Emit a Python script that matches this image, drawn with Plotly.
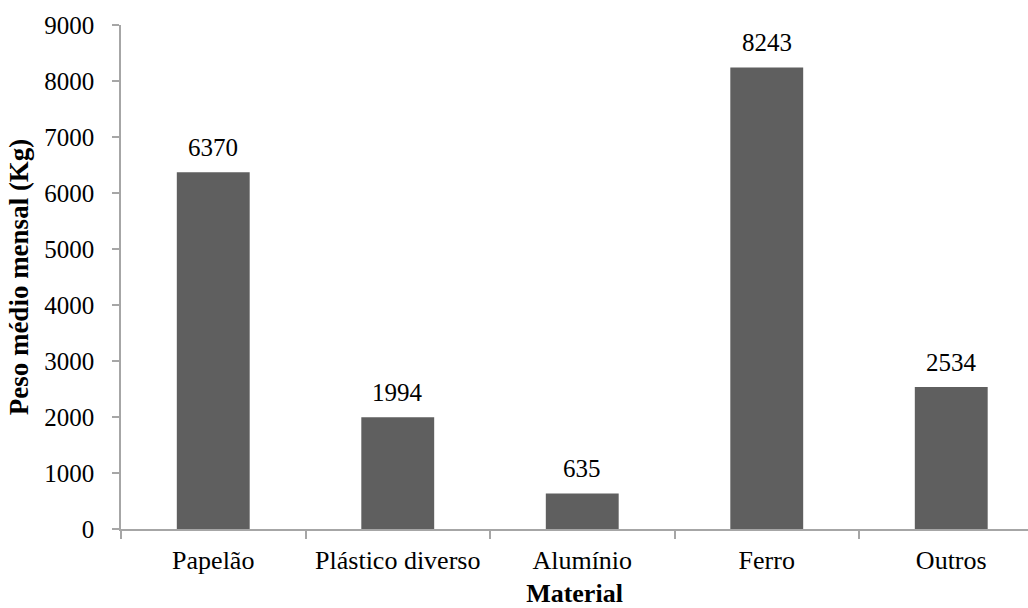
import plotly.graph_objects as go

materials = ["Papelão", "Plástico diverso", "Alumínio", "Ferro", "Outros"]
weights = [6370, 1994, 635, 8243, 2534]
y_ticks = [0, 1000, 2000, 3000, 4000, 5000, 6000, 7000, 8000, 9000]

FONT = "Liberation Serif"
BAR = "#5f5f5f"
AXIS = "#a6a6a6"

fig = go.Figure()
fig.add_trace(go.Bar(
    x=materials, y=weights, marker=dict(color=BAR, line=dict(width=0)),
    width=0.395, showlegend=False,
))

# value labels sitting above each bar
for m, w in zip(materials, weights):
    fig.add_annotation(x=m, y=w, text=str(w), showarrow=False,
                       yanchor="bottom", yshift=9,
                       font=dict(family=FONT, size=25, color="black"))

fig.update_layout(
    width=1028, height=608,
    margin=dict(l=121, r=0, t=25, b=79),
    paper_bgcolor="white", plot_bgcolor="white",
    font=dict(family=FONT, size=25, color="black"),
    bargap=0.6,
)
fig.update_xaxes(
    range=[-0.5, 4.416], showline=True, linecolor=AXIS, linewidth=1.5,
    ticks="outside", tickcolor=AXIS, ticklen=8, tickwidth=1.5,
    tickson="boundaries", showgrid=False, zeroline=False,
    ticklabelstandoff=7, tickfont=dict(size=26),
    title=dict(text="<b>Material</b>", font=dict(family=FONT, size=26), standoff=13),
)
fig.update_yaxes(
    range=[0, 9000], tickvals=y_ticks, showline=True, linecolor=AXIS, linewidth=1.5,
    ticks="outside", tickcolor=AXIS, ticklen=7, tickwidth=1.5,
    showgrid=False, zeroline=False, ticklabelstandoff=13, tickfont=dict(size=25),
    title=dict(text="<b>Peso médio mensal (Kg)</b>", font=dict(family=FONT, size=27), standoff=8),
)

fig.write_html("out.html")
